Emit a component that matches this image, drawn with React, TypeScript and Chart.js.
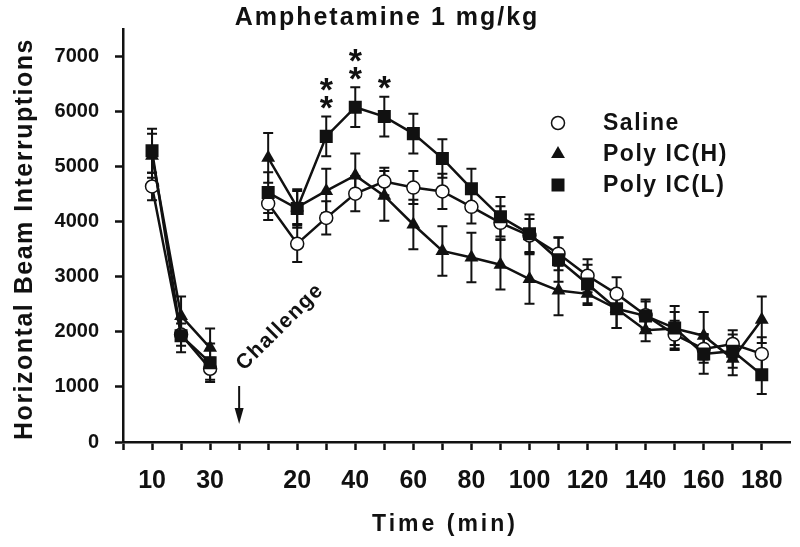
import React, { useEffect, useRef } from 'react';
import { Chart, registerables } from 'chart.js';

Chart.register(...registerables);

// ---------- data ----------
const preTimes = [10, 20, 30];
const postTimes = [10, 20, 30, 40, 50, 60, 70, 80, 90, 100, 110, 120, 130, 140, 150, 160, 170, 180];

const seriesLabels = ['Saline', 'Poly IC(H)', 'Poly IC(L)'];

const salinePre = [4640, 1950, 1330];
const polyHPre = [5200, 2290, 1710];
const polyLPre = [5290, 1930, 1440];

const salinePost = [4330, 3600, 4070, 4510, 4730, 4620, 4550, 4270, 3980, 3750, 3420, 3020, 2690, 2300, 1950, 1690, 1780, 1600];
const polyHPost = [5160, 4260, 4560, 4840, 4470, 3950, 3470, 3350, 3220, 2960, 2750, 2690, 2420, 2030, 2060, 1930, 1510, 2220];
const polyLPost = [4530, 4240, 5550, 6080, 5910, 5600, 5150, 4600, 4090, 3780, 3310, 2870, 2420, 2290, 2070, 1600, 1650, 1220];

const salineErrPre = [250, 200, 200];
const polyHErrPre = [400, 350, 350];
const polyLErrPre = [400, 300, 350];

const salineErrPost = [300, 330, 300, 320, 250, 300, 320, 300, 300, 300, 300, 300, 300, 250, 250, 250, 250, 300];
const polyHErrPost = [450, 300, 400, 400, 450, 450, 450, 450, 450, 450, 450, 200, 350, 200, 300, 430, 300, 420];
const polyLErrPost = [370, 350, 360, 360, 360, 360, 350, 360, 360, 350, 400, 350, 350, 300, 400, 360, 300, 350];

const sigTimes = [30, 40, 50];
const sigStars = [2, 2, 1];

const preTickLabels = [10, 30];
const postTickLabels = [20, 40, 60, 80, 100, 120, 140, 160, 180];
const yTickValues = [0, 1000, 2000, 3000, 4000, 5000, 6000, 7000];

const titleText = 'Amphetamine 1 mg/kg';
const xTitle = 'Time (min)';
const yTitle = 'Horizontal Beam Interruptions';
const challengeText = 'Challenge';

// ---------- helpers ----------
const FONT = '"Liberation Sans", Arial, Helvetica, sans-serif';
const CHALLENGE_INDEX = 4;

const preIndex = (t: number) => t / 10;
const postIndex = (t: number) => CHALLENGE_INDEX + t / 10;

function buildPoints(pre: number[], post: number[]) {
  const pts: { x: number; y: number | null }[] = pre.map((v, i) => ({ x: preIndex(preTimes[i]), y: v }));
  pts.push({ x: CHALLENGE_INDEX, y: null });
  post.forEach((v, i) => pts.push({ x: postIndex(postTimes[i]), y: v }));
  return pts;
}
function buildErrors(pre: number[], post: number[]) {
  return [...pre, null, ...post];
}

function drawMarker(ctx: CanvasRenderingContext2D, style: string, x: number, y: number) {
  ctx.save();
  ctx.strokeStyle = '#111';
  ctx.fillStyle = '#111';
  ctx.beginPath();
  if (style === 'circle') {
    ctx.fillStyle = '#fff';
    ctx.lineWidth = 1.5;
    ctx.arc(x, y, 6.5, 0, Math.PI * 2);
    ctx.fill();
    ctx.stroke();
  } else if (style === 'triangle') {
    const r = 8;
    ctx.moveTo(x, y - r);
    ctx.lineTo(x + r * 0.866, y + r / 2);
    ctx.lineTo(x - r * 0.866, y + r / 2);
    ctx.closePath();
    ctx.fill();
  } else {
    const s = 6.5;
    ctx.rect(x - s, y - s, 2 * s, 2 * s);
    ctx.fill();
  }
  ctx.restore();
}

const errorBarPlugin = {
  id: 'errorBars',
  beforeDatasetsDraw(chart: any) {
    const ctx = chart.ctx;
    const yScale = chart.scales.y;
    chart.data.datasets.forEach((ds: any, di: number) => {
      const meta = chart.getDatasetMeta(di);
      meta.data.forEach((pt: any, i: number) => {
        const raw = ds.data[i];
        const e = ds.errors[i];
        if (raw.y == null || e == null) return;
        const x = pt.x;
        const yTop = yScale.getPixelForValue(raw.y + e);
        const yBot = yScale.getPixelForValue(raw.y - e);
        ctx.save();
        ctx.strokeStyle = '#111';
        ctx.lineWidth = 2;
        ctx.beginPath();
        ctx.moveTo(x, yTop);
        ctx.lineTo(x, yBot);
        ctx.moveTo(x - 5, yTop);
        ctx.lineTo(x + 5, yTop);
        ctx.moveTo(x - 5, yBot);
        ctx.lineTo(x + 5, yBot);
        ctx.stroke();
        ctx.restore();
      });
    });
  },
};

const annotationPlugin = {
  id: 'annotations',
  afterDraw(chart: any) {
    const ctx: CanvasRenderingContext2D = chart.ctx;
    const xScale = chart.scales.x;
    const yScale = chart.scales.y;
    ctx.save();
    ctx.fillStyle = '#111';
    ctx.strokeStyle = '#111';

    // Title
    ctx.font = `bold 25px ${FONT}`;
    (ctx as any).letterSpacing = '2px';
    ctx.textAlign = 'center';
    ctx.textBaseline = 'middle';
    ctx.fillText(titleText, 387, 18);

    // X title
    ctx.font = `bold 23px ${FONT}`;
    (ctx as any).letterSpacing = '3px';
    ctx.fillText(xTitle, 445, 525);

    // Y title
    ctx.save();
    ctx.translate(25, 239);
    ctx.rotate(-Math.PI / 2);
    ctx.font = `bold 25px ${FONT}`;
    (ctx as any).letterSpacing = '1.5px';
    ctx.fillText(yTitle, 0, 0);
    ctx.restore();

    // Challenge text + arrow
    const cx = xScale.getPixelForValue(CHALLENGE_INDEX);
    ctx.save();
    ctx.translate(cx + 41, 327);
    ctx.rotate(-Math.PI / 4);
    ctx.font = `bold 21px ${FONT}`;
    (ctx as any).letterSpacing = '1.5px';
    ctx.fillText(challengeText, 0, 0);
    ctx.restore();

    ctx.lineWidth = 2;
    ctx.beginPath();
    ctx.moveTo(cx, 386);
    ctx.lineTo(cx, 414);
    ctx.stroke();
    ctx.beginPath();
    ctx.moveTo(cx - 4.5, 408);
    ctx.lineTo(cx + 4.5, 408);
    ctx.lineTo(cx, 424);
    ctx.closePath();
    ctx.fill();

    // Significance stars above Poly IC(L)
    ctx.font = `bold 34px ${FONT}`;
    (ctx as any).letterSpacing = '0px';
    ctx.textAlign = 'center';
    ctx.textBaseline = 'alphabetic';
    sigTimes.forEach((t, k) => {
      const i = postTimes.indexOf(t);
      const v = polyLPost[i] + polyLErrPost[i];
      const x = xScale.getPixelForValue(postIndex(t));
      const yTop = yScale.getPixelForValue(v);
      for (let s = 0; s < sigStars[k]; s++) {
        const centerY = yTop - 17 - s * 18;
        ctx.fillText('*', x, centerY + 19.5);
      }
    });

    // Legend
    const styles = ['circle', 'triangle', 'rect'];
    const legendY = [123, 154, 185];
    ctx.font = `bold 23px ${FONT}`;
    (ctx as any).letterSpacing = '1.5px';
    ctx.textAlign = 'left';
    ctx.textBaseline = 'middle';
    seriesLabels.forEach((lab, k) => {
      drawMarker(ctx, styles[k], 558, legendY[k]);
      ctx.fillStyle = '#111';
      ctx.fillText(lab, 603, legendY[k] + 1);
    });
    ctx.restore();
  },
};

export default function App() {
  const ref = useRef<HTMLCanvasElement | null>(null);

  useEffect(() => {
    if (!ref.current) return;
    const common = {
      borderColor: '#111',
      borderWidth: 2.5,
      tension: 0,
      spanGaps: false,
      pointBorderColor: '#111',
    };
    const chart = new Chart(ref.current, {
      type: 'line',
      data: {
        datasets: [
          {
            ...common,
            label: seriesLabels[2],
            data: buildPoints(polyLPre, polyLPost),
            errors: buildErrors(polyLErrPre, polyLErrPost),
            pointStyle: 'rect',
            pointRadius: 9.2,
            pointBackgroundColor: '#111',
            pointBorderWidth: 0,
            order: 0,
          } as any,
          {
            ...common,
            label: seriesLabels[1],
            data: buildPoints(polyHPre, polyHPost),
            errors: buildErrors(polyHErrPre, polyHErrPost),
            pointStyle: 'triangle',
            pointRadius: 8,
            pointBackgroundColor: '#111',
            pointBorderWidth: 0,
            order: 1,
          } as any,
          {
            ...common,
            label: seriesLabels[0],
            data: buildPoints(salinePre, salinePost),
            errors: buildErrors(salineErrPre, salineErrPost),
            pointStyle: 'circle',
            pointRadius: 6.5,
            pointBackgroundColor: '#fff',
            pointBorderWidth: 1.5,
            order: 2,
          } as any,
        ],
      },
      options: {
        responsive: false,
        animation: false,
        layout: { padding: { top: 29, right: 8, bottom: 0, left: 0 } },
        plugins: {
          legend: { display: false },
          tooltip: { enabled: false },
          title: { display: false },
        },
        scales: {
          x: {
            type: 'linear',
            min: 0,
            max: 23,
            afterBuildTicks: (scale: any) => {
              const arr = [];
              for (let v = 0; v <= postIndex(postTimes[postTimes.length - 1]); v++) arr.push({ value: v });
              scale.ticks = arr;
            },
            afterFit: (scale: any) => {
              scale.height = 105;
            },
            grid: {
              drawOnChartArea: false,
              drawTicks: true,
              tickLength: 8,
              tickWidth: 2.5,
              tickColor: '#111',
            },
            border: { display: true, color: '#111', width: 2.5 },
            ticks: {
              padding: 16,
              color: '#111',
              font: { family: FONT, size: 25, weight: 'bold' },
              maxRotation: 0,
              autoSkip: false,
              callback: (v: any) => {
                const n = Number(v);
                if (n < CHALLENGE_INDEX) {
                  const t = n * 10;
                  return preTickLabels.includes(t) ? String(t) : '';
                }
                const t = Math.round((n - CHALLENGE_INDEX) * 10);
                return postTickLabels.includes(t) ? String(t) : '';
              },
            },
          },
          y: {
            type: 'linear',
            min: 0,
            max: 7500,
            afterBuildTicks: (scale: any) => {
              scale.ticks = yTickValues.map((v) => ({ value: v }));
            },
            afterFit: (scale: any) => {
              scale.width = 123;
            },
            grid: {
              drawOnChartArea: false,
              drawTicks: true,
              tickLength: 8,
              tickWidth: 2.5,
              tickColor: '#111',
            },
            border: { display: true, color: '#111', width: 2.5 },
            ticks: {
              padding: 16,
              color: '#111',
              font: { family: FONT, size: 20, weight: 'bold' },
              callback: (v: any) => String(v),
            },
          },
        },
      } as any,
      plugins: [errorBarPlugin, annotationPlugin],
    });
    return () => chart.destroy();
  }, []);

  return (
    <div style={{ position: 'fixed', left: 0, top: 0, width: 800, height: 547, background: '#fff' }}>
      <canvas ref={ref} width={800} height={547} style={{ width: 800, height: 547, display: 'block' }} />
    </div>
  );
}
